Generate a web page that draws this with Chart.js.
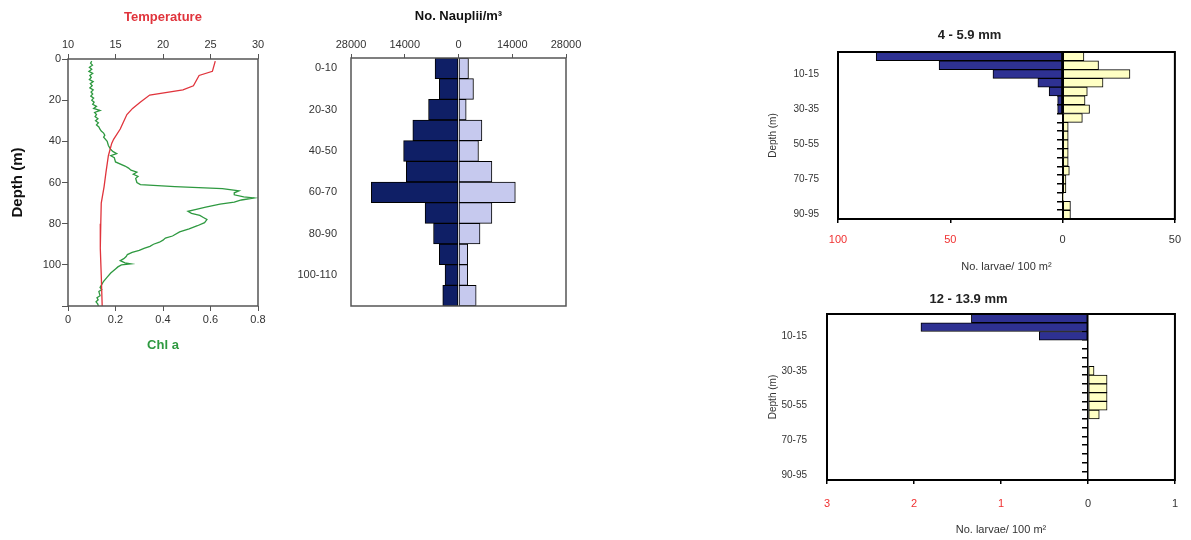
<!DOCTYPE html>
<html>
<head>
<meta charset="utf-8">
<script src="https://cdn.jsdelivr.net/npm/chart.js@4.4.0/dist/chart.umd.min.js"></script>
<style>
body { margin: 0; background: #fff; width: 1191px; height: 540px; position: relative; overflow: hidden; }
canvas { position: absolute; }
</style>
</head>
<body>
<canvas id="profile" width="280" height="360" style="left:0;top:0"></canvas>
<canvas id="nauplii" width="300" height="360" style="left:290px;top:0"></canvas>
<canvas id="small" width="431" height="265" style="left:760px;top:20px"></canvas>
<canvas id="large" width="431" height="255" style="left:760px;top:285px"></canvas>
<script>
// temperature profile (depth m -> deg C)
const tempDepth = [1, 6, 8, 13, 15, 17.5, 21, 24, 27, 31, 34, 39, 41, 47, 55, 62, 70, 80, 92, 105, 120]
const tempValues = [25.5, 25.2, 23.8, 23.2, 22.1, 18.6, 17.6, 16.8, 16.2, 15.8, 15.5, 14.8, 14.6, 14.25, 14.0, 13.8, 13.5, 13.45, 13.4, 13.5, 13.6]

// chlorophyll a profile (depth m -> value)
const chlDepth = [1, 2, 3, 4, 5, 6, 7, 8, 9, 10, 11, 12, 13, 14, 15, 16, 17, 18, 19, 20,
  21, 22, 23, 24, 25, 26, 27, 28, 29, 30, 31, 32, 33, 34, 35, 36, 37, 38, 40, 42,
  44, 45, 46, 47, 48, 50, 52, 53, 54, 55, 56, 57, 58, 60, 61, 62, 63, 64, 65, 66,
  67, 67.5, 68.5, 69.5, 70.5, 72, 73, 74, 75, 76, 77, 78, 79.5, 81, 82.5, 84, 86, 87, 88, 89,
  90, 91, 92, 93, 94, 95, 96, 97, 98, 99, 99.5, 100, 101, 102, 104, 106, 108, 110, 111, 112,
  113, 115, 116, 117, 118, 119, 120]
const chlValues = [0.10, 0.095, 0.103, 0.09, 0.10, 0.088, 0.104, 0.092, 0.098, 0.09, 0.106, 0.094, 0.102, 0.092, 0.106, 0.097, 0.104, 0.096, 0.108, 0.10,
  0.11, 0.104, 0.12, 0.108, 0.135, 0.112, 0.12, 0.114, 0.126, 0.116, 0.128, 0.12, 0.13, 0.134, 0.14, 0.15, 0.155, 0.15, 0.165, 0.17,
  0.18, 0.19, 0.205, 0.18, 0.195, 0.20, 0.24, 0.255, 0.265, 0.29, 0.275, 0.295, 0.285, 0.29, 0.305, 0.45, 0.65, 0.72, 0.70, 0.70,
  0.74, 0.785, 0.73, 0.70, 0.64, 0.58, 0.54, 0.505, 0.52, 0.555, 0.57, 0.585, 0.575, 0.545, 0.51, 0.47, 0.44, 0.41, 0.40, 0.385,
  0.36, 0.345, 0.32, 0.30, 0.27, 0.25, 0.245, 0.235, 0.22, 0.24, 0.265, 0.225, 0.21, 0.20, 0.18, 0.165, 0.15, 0.14, 0.135, 0.142,
  0.13, 0.135, 0.122, 0.127, 0.118, 0.125, 0.128]

// nauplii per m3, left (dark) and right (light) halves
const naupliiLabels = ['0-10', '10-20', '20-30', '30-40', '40-50', '50-60', '60-70', '70-80', '80-90', '90-100', '100-110', '110-120']
const naupliiLeft = [6100, 5000, 7800, 11900, 14300, 13600, 22700, 8700, 6500, 5000, 3500, 4100]
const naupliiRight = [2600, 3900, 2000, 6100, 5200, 8700, 14800, 8700, 5600, 2400, 2400, 4600]

// larvae per 100 m2 in 5 m bins
const larvaeLabels = ['0-5', '5-10', '10-15', '15-20', '20-25', '25-30', '30-35', '35-40', '40-45', '45-50',
  '50-55', '55-60', '60-65', '65-70', '70-75', '75-80', '80-85', '85-90', '90-95']
const smallLeft = [83, 55, 31, 11, 6, 2.2, 2.2, 0, 0, 0, 0, 0, 0, 0, 0, 0, 0, 0, 0]
const smallRight = [9.5, 16, 30, 18, 11, 10, 12, 8.8, 2.5, 2.5, 2.5, 2.5, 2.5, 3, 1.5, 1.5, 0.5, 3.5, 3.5]
const largeLeft = [1.34, 1.92, 0.56, 0, 0, 0, 0, 0, 0, 0, 0, 0, 0, 0, 0, 0, 0, 0, 0]
const largeRight = [0, 0, 0, 0, 0, 0, 0.07, 0.22, 0.22, 0.22, 0.22, 0.13, 0, 0, 0, 0, 0, 0, 0]

Chart.defaults.font.family = '"Liberation Sans", Arial, sans-serif'
Chart.defaults.font.size = 11
Chart.defaults.color = '#333'

const frame = {
    id: 'frame',
    afterDraw(chart, args, opts){
        const {ctx, chartArea: a} = chart
        ctx.save()
        ctx.strokeStyle = opts.color || '#000'
        ctx.lineWidth = opts.width || 1
        ctx.strokeRect(a.left, a.top, a.right - a.left, a.bottom - a.top)
        ctx.restore()
    }
}

const negRed = c => (c.tick && c.tick.value < 0) ? '#f03030' : '#333'

// left panel: temperature and chl a profiles
new Chart(document.getElementById('profile'), {
    type: 'scatter',
    data: {
        datasets: [
            {
                data: tempDepth.map((d, i) => ({x: tempValues[i], y: d})),
                xAxisID: 'temp', showLine: true, borderColor: '#e0343c', borderWidth: 1.3, pointRadius: 0
            },
            {
                data: chlDepth.map((d, i) => ({x: chlValues[i], y: d})),
                xAxisID: 'x', showLine: true, borderColor: '#2e9940', borderWidth: 1.3, pointRadius: 0
            }
        ]
    },
    options: {
        responsive: false, animation: false,
        layout: {padding: {right: 22}},
        plugins: {legend: {display: false}, tooltip: {enabled: false}, frame: {color: '#555', width: 1.5}},
        scales: {
            temp: {
                type: 'linear', position: 'top', min: 10, max: 30,
                ticks: {stepSize: 5, padding: 2},
                grid: {drawOnChartArea: false, tickLength: 5, color: '#555'},
                border: {display: false},
                title: {display: true, text: 'Temperature', color: '#e0343c', font: {weight: 'bold', size: 13}, padding: {top: 10, bottom: 0}},
                afterFit: s => { s.height = 59 }
            },
            x: {
                type: 'linear', position: 'bottom', min: 0, max: 0.8,
                ticks: {stepSize: 0.2, padding: 2},
                grid: {drawOnChartArea: false, tickLength: 5, color: '#555'},
                border: {display: false},
                title: {display: true, text: 'Chl a', color: '#2e9940', font: {weight: 'bold', size: 13}, padding: {top: 0, bottom: 7}},
                afterFit: s => { s.height = 54 }
            },
            y: {
                type: 'linear', reverse: true, min: 0, max: 120,
                ticks: {stepSize: 20, padding: 1, callback: v => v === 120 ? '' : v},
                grid: {drawOnChartArea: false, tickLength: 6, color: '#555'},
                border: {display: false},
                title: {display: true, text: 'Depth (m)', color: '#111', font: {weight: 'bold', size: 15}, padding: {top: 9, bottom: 0}},
                afterFit: s => { s.width = 68 }
            }
        }
    },
    plugins: [frame]
})

// nauplii
new Chart(document.getElementById('nauplii'), {
    type: 'bar',
    data: {
        labels: naupliiLabels,
        datasets: [
            {data: naupliiLeft.map(v => -v), backgroundColor: '#0f1f66', borderColor: '#000', borderWidth: 1, borderSkipped: false},
            {data: naupliiRight, backgroundColor: '#c6c9ee', borderColor: '#000', borderWidth: 1, borderSkipped: false}
        ]
    },
    options: {
        indexAxis: 'y', responsive: false, animation: false,
        layout: {padding: {right: 24, bottom: 54}},
        datasets: {bar: {categoryPercentage: 1, barPercentage: 1}},
        plugins: {legend: {display: false}, tooltip: {enabled: false}, frame: {color: '#555', width: 1.5}},
        scales: {
            x: {
                position: 'top', stacked: true, min: -28000, max: 28000,
                ticks: {stepSize: 14000, padding: 2, callback: v => Math.abs(v)},
                grid: {drawOnChartArea: false, tickLength: 4, color: '#555'},
                border: {display: false},
                title: {display: true, text: 'No. Nauplii/m³', color: '#111', font: {weight: 'bold', size: 13}, padding: {top: 9, bottom: 0}},
                afterFit: s => { s.height = 58 }
            },
            y: {
                stacked: true,
                grid: {display: false},
                border: {display: false},
                ticks: {autoSkip: false, padding: 6, callback: (v, i) => i % 2 === 0 ? naupliiLabels[i] : ''},
                afterFit: s => { s.width = 61 }
            }
        }
    },
    plugins: [frame]
})

function larvaeChart(id, title, leftVals, rightVals, xMin, xMax, step, box){
    return new Chart(document.getElementById(id), {
        type: 'bar',
        data: {
            labels: larvaeLabels,
            datasets: [
                {data: leftVals.map(v => -v), backgroundColor: '#2e3192', borderColor: '#000', borderWidth: 1, borderSkipped: false},
                {data: rightVals, backgroundColor: '#ffffc4', borderColor: '#000', borderWidth: 1, borderSkipped: false}
            ]
        },
        options: {
            indexAxis: 'y', responsive: false, animation: false,
            layout: {padding: {right: box.right}},
            datasets: {bar: {categoryPercentage: 1, barPercentage: 1}},
            plugins: {
                legend: {display: false}, tooltip: {enabled: false},
                frame: {color: '#000', width: 2},
                title: {display: true, text: title, color: '#222', font: {weight: 'bold', size: 13, lineHeight: 1.2}, padding: {top: box.titleTop, bottom: box.titleBottom}}
            },
            scales: {
                x: {
                    stacked: true, min: xMin, max: xMax,
                    ticks: {stepSize: step, padding: box.tickPad, color: negRed, callback: v => Math.abs(v)},
                    grid: {drawOnChartArea: false, tickLength: 4, color: '#000', lineWidth: 1.5},
                    border: {display: false},
                    title: {display: true, text: 'No. larvae/ 100 m²', color: '#333', font: {size: 11}, padding: {top: 0, bottom: box.xTitlePad}},
                    afterFit: s => { s.height = box.bottom }
                },
                y: {
                    stacked: true,
                    grid: {display: false},
                    border: {display: false},
                    ticks: {autoSkip: false, padding: box.yPad, font: {size: 10}, callback: (v, i) => i % 4 === 2 ? larvaeLabels[i] : ''},
                    title: {display: true, text: 'Depth (m)', color: '#333', font: {size: 10}, padding: {top: 7, bottom: 0}},
                    afterFit: s => { s.width = box.left }
                },
                zero: {
                    type: 'category', axis: 'y', position: {x: 0}, offset: true,
                    grid: {offset: true, drawOnChartArea: false, tickLength: 5, color: '#000', lineWidth: 1.5},
                    ticks: {display: false},
                    border: {display: true, color: '#000', width: 1.5}
                }
            }
        },
        plugins: [frame]
    })
}

larvaeChart('small', '4 - 5.9 mm', smallLeft, smallRight, -100, 50, 50,
    {left: 78, right: 12, bottom: 66, titleTop: 7.5, titleBottom: 8.9, tickPad: 10, xTitlePad: 11, yPad: 11})
larvaeChart('large', '12 - 13.9 mm', largeLeft, largeRight, -3, 1, 1,
    {left: 67, right: 14, bottom: 60, titleTop: 7, titleBottom: 6.4, tickPad: 13, xTitlePad: 3, yPad: 12})
</script>
</body>
</html>
